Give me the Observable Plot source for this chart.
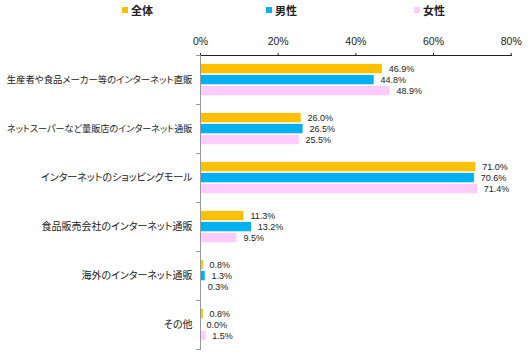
<!DOCTYPE html>
<html><head><meta charset="utf-8">
<script src="https://cdn.jsdelivr.net/npm/d3@7"></script>
<script src="https://cdn.jsdelivr.net/npm/@observablehq/plot@0.6"></script>
<style>
html,body{margin:0;padding:0;background:#fff;}
#wrap{position:relative;width:529px;height:354px;font-family:"Liberation Sans","Noto Sans CJK JP",sans-serif;}
#legend{position:absolute;top:0;left:0;width:529px;height:20px;}
.item{position:absolute;top:2px;font-size:11px;font-weight:bold;color:#222;display:flex;align-items:center;font-feature-settings:"palt";}
.sw{width:6px;height:6px;margin-right:3px;display:inline-block;}
g[aria-label="fy-axis tick label"]{font-size:10px;fill:#222;font-feature-settings:"palt";}
g[aria-label="x-axis tick label"]{fill:#222;font-size:10.5px;}
</style>
</head><body>
<div id="wrap"><div id="legend"></div><div id="chart"></div></div>
<script>
const categories = [
  "生産者や食品メーカー等のインターネット直販",
  "ネットスーパーなど量販店のインターネット通販",
  "インターネットのショッピングモール",
  "食品販売会社のインターネット通販",
  "海外のインターネット通販",
  "その他"
];
const series = ["全体", "男性", "女性"];
const allValues = [46.9, 26.0, 71.0, 11.3, 0.8, 0.8];
const maleValues = [44.8, 26.5, 70.6, 13.2, 1.3, 0.0];
const femaleValues = [48.9, 25.5, 71.4, 9.5, 0.3, 1.5];
const colors = ["#FFC000", "#00B0F0", "#FFCCFF"];
const xTicks = [0, 20, 40, 60, 80];

const seriesValues = [allValues, maleValues, femaleValues];
const data = categories.flatMap((c, i) => series.map((s, j) => ({category: c, series: s, value: seriesValues[j][i]})));

const W = 529, H = 354, ML = 200, MR = 18.3, MT = 54.3, MB = 4;
const chart = Plot.plot({
  width: W, height: H,
  marginTop: MT, marginLeft: ML, marginRight: MR, marginBottom: MB,
  style: {fontFamily: '"Liberation Sans","Noto Sans CJK JP",sans-serif', fontSize: "10px", color: "#222", background: "#fff"},
  x: {domain: [0, 80], axis: "top", ticks: xTicks, tickFormat: d => d + "%", tickSize: 3, tickPadding: 8, line: true, label: null},
  y: {domain: series, axis: null, paddingInner: 0.07, paddingOuter: 0.75},
  fy: {domain: categories, padding: 0, label: null, tickSize: 0, tickPadding: 8, axis: "left"},
  color: {domain: series, range: colors},
  marks: [
    Plot.barX(data, {x: "value", y: "series", fy: "category", fill: "series", stroke: "white", strokeWidth: 0.6}),
    Plot.ruleX([0], {stroke: "#999"}),
    Plot.frame({anchor: "top", stroke: "#999", insetLeft: -4, insetRight: W - ML - MR}),
    Plot.frame({anchor: "bottom", stroke: "#999", insetLeft: -4, insetRight: W - ML - MR}),
    Plot.text(data, {x: "value", y: "series", fy: "category", text: d => d.value.toFixed(1) + "%", textAnchor: "start", dx: 6, fontSize: 9, fill: "#222"})
  ]
});
document.getElementById("chart").appendChild(chart);

// shrink any category label that would not fit in the left margin
const maxLabelWidth = ML - 14;
chart.querySelectorAll('g[aria-label="fy-axis tick label"] text').forEach(t => {
  const w = t.getComputedTextLength();
  if (w > maxLabelWidth) t.style.fontSize = (10 * maxLabelWidth / w).toFixed(2) + "px";
});

const legendX = [122, 266, 414];
const legend = document.getElementById("legend");
series.forEach((s, j) => {
  const it = document.createElement("div");
  it.className = "item";
  it.style.left = legendX[j] + "px";
  it.innerHTML = `<span class="sw" style="background:${colors[j]}"></span>${s}`;
  legend.appendChild(it);
});
</script>
</body></html>
